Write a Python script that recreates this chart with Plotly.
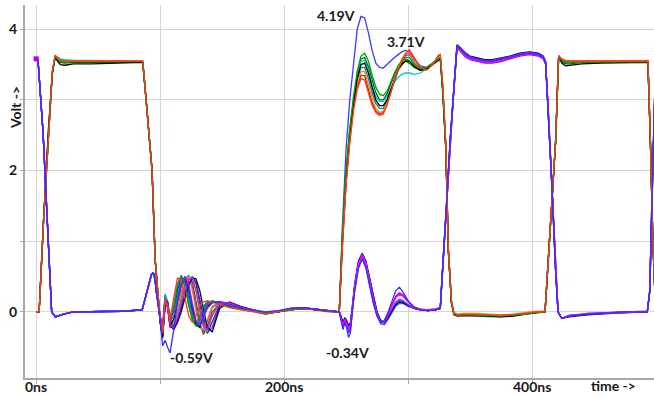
import plotly.graph_objects as go

# ---------------- Family A (red net: high first at 15 ns) ----------------
A_COLORS = ['#ff3a1a', '#00a000', '#000000', '#ff7f0e', '#00c8c8',
            '#006400', '#008b8b', '#b22222', '#3b3bff']

A_RISE1_T = [0, 2.4, 6, 10]
A_RISE1_V = [0.0, 0.0, 1.3, 2.6]

AH1_T = [13, 15.3, 17, 19.5, 23, 30, 45, 60, 75, 86]
A_AH1_V = [
    [3.40, 3.63, 3.60, 3.57, 3.55, 3.55, 3.55, 3.55, 3.55, 3.55],
    [3.38, 3.62, 3.58, 3.54, 3.53, 3.54, 3.54, 3.54, 3.54, 3.54],
    [3.36, 3.60, 3.55, 3.50, 3.49, 3.51, 3.51, 3.52, 3.52, 3.53],
    [3.40, 3.63, 3.59, 3.56, 3.55, 3.55, 3.55, 3.55, 3.55, 3.55],
    [3.39, 3.62, 3.60, 3.58, 3.57, 3.56, 3.56, 3.56, 3.55, 3.54],
    [3.37, 3.61, 3.57, 3.53, 3.52, 3.53, 3.53, 3.53, 3.53, 3.53],
    [3.38, 3.62, 3.59, 3.56, 3.55, 3.55, 3.54, 3.54, 3.54, 3.54],
    [3.39, 3.62, 3.58, 3.55, 3.54, 3.54, 3.54, 3.54, 3.54, 3.54],
    [3.38, 3.62, 3.58, 3.54, 3.53, 3.54, 3.54, 3.54, 3.54, 3.54],
]

A_FALL1_T = [88.7, 91, 93.5, 96]
A_FALL1_V = [3.0, 2.5, 2.0, 0.74]

LR_T = [98, 100, 102, 104, 106, 108, 111, 114, 117, 120,
        123, 126, 129, 132, 135, 138, 142, 148, 156, 165,
        175, 185, 195, 205, 215, 225, 235, 244]
A_LR_V = [
    [0.35, -0.1, -0.3, 0.15, 0.1, -0.1, 0.2, 0.48, 0.45, 0.2, -0.05, -0.15, -0.05, 0.08, 0.14, 0.16, 0.14, 0.1, 0.06, 0.03, 0.01, -0.02, 0.0, 0.04, 0.05, 0.03, 0.01, 0.0],
    [0.3, -0.12, -0.28, 0.2, 0.12, -0.12, 0.05, 0.35, 0.5, 0.38, 0.1, -0.12, -0.2, -0.05, 0.08, 0.14, 0.15, 0.12, 0.07, 0.04, 0.01, -0.03, 0.0, 0.03, 0.05, 0.04, 0.01, 0.0],
    [0.32, -0.15, -0.37, 0.1, 0.15, -0.2, -0.1, 0.15, 0.38, 0.5, 0.35, 0.05, -0.18, -0.22, -0.05, 0.08, 0.14, 0.13, 0.08, 0.04, 0.02, -0.02, 0.0, 0.04, 0.06, 0.03, 0.01, 0.0],
    [0.3, -0.1, -0.32, 0.18, 0.1, -0.15, -0.15, 0.02, 0.25, 0.45, 0.5, 0.3, 0.0, -0.22, -0.25, -0.1, 0.08, 0.14, 0.1, 0.05, 0.02, -0.02, 0.01, 0.05, 0.05, 0.03, 0.0, 0.0],
    [0.33, -0.08, -0.25, 0.22, 0.12, -0.1, -0.18, -0.05, 0.15, 0.35, 0.48, 0.5, 0.3, 0.0, -0.22, -0.28, -0.05, 0.12, 0.12, 0.06, 0.03, -0.01, 0.01, 0.04, 0.06, 0.04, 0.01, 0.0],
    [0.3, -0.12, -0.3, 0.12, 0.08, -0.15, -0.2, -0.1, 0.05, 0.25, 0.42, 0.48, 0.4, 0.12, -0.15, -0.3, -0.15, 0.1, 0.13, 0.07, 0.03, -0.02, 0.0, 0.04, 0.05, 0.03, 0.01, 0.0],
    [0.34, -0.1, -0.2, 0.25, 0.15, -0.05, 0.0, 0.25, 0.45, 0.48, 0.25, -0.05, -0.2, -0.12, 0.04, 0.12, 0.16, 0.13, 0.08, 0.04, 0.02, -0.02, 0.0, 0.03, 0.05, 0.04, 0.02, 0.0],
    [0.3, -0.14, -0.35, 0.08, 0.12, -0.22, -0.2, -0.05, 0.2, 0.4, 0.5, 0.42, 0.15, -0.15, -0.32, -0.2, 0.0, 0.12, 0.11, 0.05, 0.02, -0.03, 0.0, 0.04, 0.05, 0.03, 0.01, 0.0],
    [0.31, -0.1, -0.27, 0.2, 0.12, -0.1, 0.06, 0.36, 0.5, 0.38, 0.1, -0.1, -0.18, -0.05, 0.08, 0.14, 0.15, 0.12, 0.07, 0.04, 0.01, -0.02, 0.0, 0.03, 0.05, 0.04, 0.01, 0.0],
]

HR_T = [244.5, 247, 250, 253, 256, 259, 262, 265, 268, 271,
        274, 277, 280, 283, 286, 289, 292, 295, 298, 301,
        305, 310, 315, 320, 324, 326]
A_HR_V = [
    [0.0, 0.9, 1.8, 2.4, 2.85, 3.15, 3.3, 3.28, 3.1, 2.92, 2.82, 2.78, 2.8, 2.92, 3.1, 3.28, 3.42, 3.55, 3.65, 3.71, 3.6, 3.45, 3.42, 3.5, 3.62, 3.65],
    [0.0, 1.1, 2.0, 2.6, 3.05, 3.4, 3.62, 3.66, 3.55, 3.35, 3.18, 3.08, 3.06, 3.12, 3.25, 3.38, 3.48, 3.55, 3.58, 3.56, 3.5, 3.45, 3.46, 3.52, 3.58, 3.6],
    [0.0, 1.0, 1.9, 2.5, 2.95, 3.3, 3.5, 3.52, 3.38, 3.18, 3.0, 2.92, 2.92, 3.0, 3.15, 3.3, 3.42, 3.5, 3.55, 3.55, 3.48, 3.42, 3.44, 3.5, 3.56, 3.58],
    [0.0, 0.95, 1.85, 2.45, 2.9, 3.22, 3.4, 3.4, 3.22, 3.02, 2.88, 2.82, 2.84, 2.95, 3.12, 3.3, 3.45, 3.58, 3.66, 3.66, 3.55, 3.46, 3.45, 3.52, 3.6, 3.62],
    [0.0, 1.0, 1.95, 2.55, 3.0, 3.35, 3.55, 3.56, 3.42, 3.22, 3.05, 2.98, 2.98, 3.05, 3.15, 3.25, 3.32, 3.36, 3.38, 3.38, 3.36, 3.38, 3.44, 3.52, 3.58, 3.6],
    [0.0, 1.05, 1.98, 2.58, 3.02, 3.38, 3.58, 3.6, 3.47, 3.27, 3.1, 3.0, 3.0, 3.08, 3.22, 3.36, 3.46, 3.52, 3.55, 3.52, 3.46, 3.42, 3.45, 3.52, 3.57, 3.6],
    [0.0, 1.0, 1.9, 2.5, 2.95, 3.28, 3.46, 3.46, 3.3, 3.1, 2.95, 2.88, 2.88, 2.98, 3.14, 3.3, 3.44, 3.54, 3.6, 3.6, 3.52, 3.44, 3.44, 3.51, 3.58, 3.6],
    [0.0, 0.92, 1.82, 2.42, 2.88, 3.18, 3.35, 3.34, 3.15, 2.96, 2.84, 2.8, 2.82, 2.94, 3.1, 3.28, 3.43, 3.56, 3.63, 3.64, 3.55, 3.46, 3.44, 3.5, 3.6, 3.63],
    [0.0, 1.2, 2.3, 3.0, 3.55, 4.0, 4.18, 4.16, 3.95, 3.7, 3.52, 3.46, 3.45, 3.5, 3.56, 3.6, 3.64, 3.68, 3.7, 3.68, 3.58, 3.48, 3.46, 3.52, 3.6, 3.62],
]

AL_T = [328, 330.5, 332.5, 335, 337, 340, 345, 355, 365, 375, 385, 395, 403, 410.5]
A_AL_V = [
    [3.2, 2.35, 0.9, 0.15, -0.02, -0.04, -0.03, -0.03, -0.04, -0.05, -0.04, -0.02, 0.0, 0.0],
    [3.15, 2.3, 0.88, 0.14, -0.03, -0.05, -0.04, -0.04, -0.05, -0.06, -0.05, -0.03, -0.01, 0.0],
    [3.1, 2.28, 0.85, 0.12, -0.04, -0.06, -0.05, -0.05, -0.06, -0.07, -0.06, -0.03, -0.01, 0.0],
    [3.2, 2.36, 0.92, 0.16, -0.01, -0.03, -0.02, -0.02, -0.03, -0.04, -0.03, -0.01, 0.01, 0.01],
    [3.15, 2.32, 0.88, 0.14, -0.03, -0.05, -0.04, -0.05, -0.07, -0.07, -0.05, -0.03, 0.0, 0.0],
    [3.12, 2.3, 0.86, 0.13, -0.03, -0.05, -0.04, -0.04, -0.05, -0.06, -0.05, -0.02, 0.0, 0.0],
    [3.16, 2.33, 0.9, 0.15, -0.02, -0.04, -0.04, -0.05, -0.06, -0.06, -0.04, -0.02, 0.0, 0.0],
    [3.18, 2.34, 0.9, 0.15, -0.02, -0.04, -0.03, -0.03, -0.04, -0.05, -0.04, -0.02, 0.0, 0.0],
    [3.17, 2.33, 0.89, 0.15, -0.02, -0.04, -0.03, -0.04, -0.05, -0.05, -0.04, -0.02, 0.0, 0.0],
]

A_RISE3_T = [413.7, 419, 421.5]
A_RISE3_V = [0.9, 2.4, 3.62]

AH3_T = [424, 427, 431, 440, 455, 470, 485, 493.5]
A_AH3_V = [
    [3.58, 3.56, 3.55, 3.55, 3.55, 3.55, 3.55, 3.55],
    [3.56, 3.53, 3.53, 3.54, 3.54, 3.54, 3.54, 3.54],
    [3.52, 3.48, 3.49, 3.51, 3.52, 3.52, 3.52, 3.53],
    [3.58, 3.56, 3.55, 3.55, 3.55, 3.55, 3.56, 3.56],
    [3.57, 3.55, 3.55, 3.56, 3.56, 3.55, 3.55, 3.55],
    [3.54, 3.51, 3.51, 3.53, 3.53, 3.53, 3.53, 3.53],
    [3.56, 3.53, 3.53, 3.54, 3.54, 3.54, 3.54, 3.54],
    [3.57, 3.54, 3.54, 3.55, 3.55, 3.54, 3.54, 3.54],
    [3.56, 3.53, 3.53, 3.54, 3.54, 3.54, 3.54, 3.54],
]

A_FALL3_T = [495.5, 497.5, 499.5]
A_FALL3_V = [2.4, 1.0, 0.1]

# ---------------- Family B (blue net: high at 0 ns) ----------------
B_COLORS = ['#3030ff', '#ff00ff', '#8a2be2', '#000080', '#4169e1',
            '#1f77b4', '#9400d3', '#0000cd']

B_FALL0_T = [0, 1.5, 5.6, 10, 12.5, 15.5, 22, 30, 50, 70, 85.5]
B_FALL0_V = [3.58, 3.56, 2.53, 0.88, 0.0, -0.07, -0.03, 0.0, 0.01, 0.01, 0.03]

B_GL_T = [88, 91, 93, 94.5, 96, 97]
B_GL_V = [0.2, 0.42, 0.53, 0.56, 0.45, 0.28]

B_LR_V = [
    [0.15, -0.1, -0.48, -0.4, -0.5, -0.58, -0.25, 0.15, 0.38, 0.45, 0.3, 0.05, -0.15, -0.2, -0.08, 0.05, 0.13, 0.15, 0.11, 0.06, 0.03, 0.0, 0.02, 0.05, 0.06, 0.04, 0.02, 0.01],
    [0.2, -0.05, -0.25, 0.2, 0.05, -0.2, -0.22, -0.08, 0.12, 0.32, 0.46, 0.48, 0.3, 0.02, -0.2, -0.25, -0.05, 0.12, 0.13, 0.07, 0.03, -0.01, 0.01, 0.05, 0.06, 0.04, 0.02, 0.01],
    [0.18, -0.08, -0.3, 0.15, 0.1, -0.15, -0.05, 0.2, 0.4, 0.5, 0.4, 0.12, -0.12, -0.18, -0.04, 0.1, 0.15, 0.14, 0.09, 0.05, 0.02, -0.02, 0.0, 0.04, 0.06, 0.04, 0.02, 0.0],
    [0.2, -0.06, -0.28, 0.18, 0.08, -0.18, -0.25, -0.15, 0.0, 0.2, 0.38, 0.48, 0.47, 0.3, 0.02, -0.22, -0.28, 0.05, 0.14, 0.08, 0.03, -0.02, 0.0, 0.04, 0.06, 0.04, 0.01, 0.0],
    [0.16, -0.1, -0.33, 0.12, 0.14, -0.08, 0.1, 0.4, 0.52, 0.42, 0.15, -0.1, -0.18, -0.06, 0.06, 0.13, 0.15, 0.12, 0.08, 0.04, 0.02, -0.02, 0.0, 0.03, 0.05, 0.04, 0.02, 0.0],
    [0.2, -0.04, -0.22, 0.22, 0.1, -0.12, -0.18, 0.0, 0.28, 0.45, 0.52, 0.35, 0.05, -0.2, -0.28, -0.12, 0.06, 0.13, 0.11, 0.06, 0.02, -0.02, 0.01, 0.05, 0.06, 0.04, 0.01, 0.0],
    [0.18, -0.09, -0.3, 0.14, 0.06, -0.2, -0.24, -0.12, 0.08, 0.28, 0.42, 0.5, 0.42, 0.18, -0.1, -0.3, -0.22, 0.08, 0.13, 0.07, 0.03, -0.02, 0.0, 0.04, 0.05, 0.03, 0.01, 0.0],
    [0.17, -0.11, -0.35, 0.1, 0.12, -0.12, 0.02, 0.3, 0.48, 0.45, 0.22, -0.05, -0.2, -0.12, 0.03, 0.12, 0.15, 0.13, 0.08, 0.04, 0.02, -0.02, 0.0, 0.04, 0.05, 0.04, 0.01, 0.0],
]

HB_T = [244.5, 246, 247.5, 249, 250.5, 252, 253.5, 255, 257, 260,
        263, 266, 269, 272, 275, 278, 281, 284, 287, 290,
        293, 296, 300, 305, 310, 316, 322, 326]
B_HB_V = [
    [0.0, -0.12, -0.25, -0.15, -0.22, -0.36, -0.3, 0.0, 0.3, 0.62, 0.75, 0.62, 0.38, 0.12, -0.06, -0.15, -0.12, 0.0, 0.15, 0.3, 0.35, 0.28, 0.16, 0.06, 0.03, 0.02, 0.03, 0.05],
    [0.0, -0.08, -0.18, -0.1, -0.15, -0.22, -0.18, 0.05, 0.38, 0.7, 0.8, 0.68, 0.42, 0.15, -0.05, -0.16, -0.14, -0.04, 0.08, 0.2, 0.25, 0.22, 0.14, 0.07, 0.04, 0.03, 0.04, 0.06],
    [0.0, -0.1, -0.2, -0.12, -0.18, -0.28, -0.22, 0.02, 0.35, 0.68, 0.82, 0.7, 0.45, 0.18, -0.02, -0.14, -0.13, -0.05, 0.05, 0.14, 0.18, 0.16, 0.1, 0.05, 0.03, 0.03, 0.04, 0.06],
    [0.0, -0.06, -0.15, -0.08, -0.12, -0.2, -0.15, 0.06, 0.4, 0.72, 0.83, 0.72, 0.48, 0.2, 0.0, -0.12, -0.15, -0.08, 0.02, 0.1, 0.14, 0.13, 0.09, 0.05, 0.03, 0.02, 0.03, 0.05],
    [0.0, -0.09, -0.19, -0.1, -0.16, -0.25, -0.2, 0.03, 0.36, 0.66, 0.78, 0.66, 0.42, 0.16, -0.04, -0.17, -0.18, -0.1, 0.0, 0.08, 0.12, 0.12, 0.08, 0.05, 0.03, 0.02, 0.03, 0.05],
    [0.0, -0.07, -0.16, -0.09, -0.14, -0.21, -0.16, 0.05, 0.38, 0.7, 0.8, 0.68, 0.44, 0.17, -0.03, -0.15, -0.16, -0.07, 0.04, 0.12, 0.16, 0.15, 0.1, 0.05, 0.03, 0.02, 0.03, 0.05],
    [0.0, -0.11, -0.22, -0.13, -0.2, -0.3, -0.25, 0.0, 0.32, 0.64, 0.76, 0.64, 0.4, 0.14, -0.05, -0.16, -0.12, 0.0, 0.12, 0.22, 0.27, 0.24, 0.15, 0.07, 0.04, 0.03, 0.04, 0.06],
    [0.0, -0.08, -0.17, -0.1, -0.15, -0.24, -0.19, 0.04, 0.37, 0.69, 0.81, 0.7, 0.46, 0.19, -0.01, -0.13, -0.14, -0.06, 0.03, 0.11, 0.15, 0.14, 0.1, 0.05, 0.03, 0.02, 0.03, 0.05],
]

BH_T = [327.5, 329, 331, 334, 337, 339.5, 342, 346, 350, 356,
        362, 368, 375, 382, 390, 398, 405, 409, 411]
B_BH_V = [
    [0.5, 1.0, 1.5, 2.43, 3.2, 3.76, 3.72, 3.65, 3.6, 3.57, 3.55, 3.55, 3.57, 3.6, 3.64, 3.66, 3.64, 3.6, 3.52],
    [0.48, 0.98, 1.48, 2.4, 3.18, 3.74, 3.7, 3.62, 3.58, 3.55, 3.53, 3.53, 3.55, 3.59, 3.63, 3.65, 3.63, 3.59, 3.5],
    [0.5, 1.0, 1.5, 2.42, 3.2, 3.77, 3.73, 3.66, 3.61, 3.58, 3.56, 3.56, 3.58, 3.61, 3.65, 3.67, 3.65, 3.61, 3.53],
    [0.52, 1.02, 1.52, 2.45, 3.22, 3.78, 3.74, 3.67, 3.62, 3.59, 3.57, 3.57, 3.59, 3.62, 3.66, 3.68, 3.66, 3.62, 3.54],
    [0.49, 0.99, 1.49, 2.41, 3.19, 3.75, 3.71, 3.63, 3.59, 3.56, 3.54, 3.54, 3.56, 3.6, 3.64, 3.66, 3.64, 3.6, 3.51],
    [0.5, 1.0, 1.5, 2.43, 3.2, 3.76, 3.72, 3.64, 3.6, 3.57, 3.55, 3.55, 3.57, 3.6, 3.64, 3.66, 3.64, 3.6, 3.52],
    [0.47, 0.97, 1.47, 2.39, 3.17, 3.73, 3.69, 3.61, 3.57, 3.54, 3.52, 3.52, 3.54, 3.58, 3.62, 3.64, 3.62, 3.58, 3.5],
    [0.51, 1.01, 1.51, 2.44, 3.21, 3.77, 3.73, 3.66, 3.61, 3.58, 3.56, 3.56, 3.58, 3.61, 3.65, 3.67, 3.65, 3.61, 3.53],
]

B_FALL2_T = [413, 416, 419, 421, 424]
B_FALL2_V = [2.9, 1.8, 0.6, 0.0, -0.09]

BL_T = [430, 445, 460, 475, 493]
B_BL_V = [
    [-0.06, -0.03, -0.01, 0.0, 0.0],
    [-0.05, -0.02, -0.01, 0.0, 0.01],
    [-0.06, -0.03, -0.02, -0.01, 0.0],
    [-0.07, -0.04, -0.02, -0.01, 0.0],
    [-0.05, -0.03, -0.01, 0.0, 0.0],
    [-0.06, -0.02, -0.01, 0.0, 0.01],
    [-0.05, -0.03, -0.02, 0.0, 0.0],
    [-0.06, -0.03, -0.01, -0.01, 0.0],
]

B_RISE4_T = [495, 497, 499.5]
B_RISE4_V = [0.3, 1.8, 3.4]

# ---------------- axes / labels ----------------
X_TICKS = [0, 100, 200, 300, 400, 500]
X_LABELS = ['0ns', '', '200ns', '', '400ns', '']
Y_TICKS = [0, 1, 2, 3, 4]
Y_TICKTEXT = ['0', '', '2', '', '4']
PEAK_LABELS = [('4.19V', 259.0, 4.20, 'right'), ('3.71V', 298.5, 3.83, 'center'),
               ('-0.59V', 125.5, -0.65, 'center'), ('-0.34V', 250.8, -0.57, 'center')]

fig = go.Figure()

def a_trace(i):
    t = A_RISE1_T + AH1_T + A_FALL1_T + LR_T + HR_T + AL_T + A_RISE3_T + AH3_T + A_FALL3_T
    v = (A_RISE1_V + A_AH1_V[i] + A_FALL1_V + A_LR_V[i] + A_HR_V[i] + A_AL_V[i]
         + A_RISE3_V + A_AH3_V[i] + A_FALL3_V)
    assert len(t) == len(v), ('A', i, len(t), len(v))
    return t, v

def b_trace(i):
    t = B_FALL0_T + B_GL_T + LR_T + HB_T + BH_T + B_FALL2_T + BL_T + B_RISE4_T
    v = (B_FALL0_V + B_GL_V + B_LR_V[i] + B_HB_V[i] + B_BH_V[i] + B_FALL2_V
         + B_BL_V[i] + B_RISE4_V)
    assert len(t) == len(v), ('B', i, len(t), len(v))
    return t, v

# draw order: extreme A trace first, then the rest with index 0 (red / blue) on top
nA, nB = len(A_COLORS), len(B_COLORS)
order = [('A', nA - 1)]
for k in reversed(range(max(nA - 1, nB))):
    if k < nA - 1:
        order.append(('A', k))
    if k < nB:
        order.append(('B', k))

for fam, i in order:
    if fam == 'A':
        t, v = a_trace(i)
        col = A_COLORS[i]
    else:
        t, v = b_trace(i)
        col = B_COLORS[i]
    fig.add_trace(go.Scatter(x=t, y=v, mode='lines',
                             line=dict(color=col, width=1.3),
                             hoverinfo='skip', showlegend=False))

fig.add_trace(go.Scatter(x=[B_FALL0_T[0]], y=[B_FALL0_V[0]], mode='markers',
                         marker=dict(symbol='square', size=5, color='#b000ff'),
                         hoverinfo='skip', showlegend=False))

bold = dict(family='Lato', size=14, color='#1a1a1a', weight='bold')

fig.update_layout(
    width=654, height=397,
    margin=dict(l=25, r=0, t=5, b=19),
    paper_bgcolor='white', plot_bgcolor='white',
    showlegend=False,
    font=bold,
)
fig.update_xaxes(range=[-9, 498.4], tickmode='array', tickvals=X_TICKS,
                 ticktext=[''] * len(X_TICKS), automargin=False,
                 showgrid=True, gridcolor='#d4d4d4', gridwidth=1,
                 showline=True, linecolor='#a8a8a8', linewidth=2,
                 ticks='outside', ticklen=4, tickcolor='#a8a8a8',
                 zeroline=False)
fig.update_yaxes(range=[-0.934, 4.342], tickmode='array', tickvals=Y_TICKS, ticktext=Y_TICKTEXT,
                 automargin=False,
                 showgrid=True, gridcolor='#d4d4d4', gridwidth=1,
                 showline=True, linecolor='#a8a8a8', linewidth=2,
                 ticks='outside', ticklen=3, tickcolor='#a8a8a8',
                 zeroline=False, tickfont=bold)

for xv, lab in zip(X_TICKS, X_LABELS):
    if lab:
        fig.add_annotation(x=xv, y=-0.0241, xref='x', yref='paper', text=lab,
                           showarrow=False, xanchor='center', yanchor='middle', font=bold)

for txt, x, y, anc in PEAK_LABELS:
    fig.add_annotation(x=x, y=y, xref='x', yref='y', text=txt, showarrow=False,
                       xanchor=anc, yanchor='middle', font=bold)

fig.add_annotation(x=0.936, y=-0.0214, xref='paper', yref='paper', text='time ->',
                   showarrow=False, xanchor='center', yanchor='middle', font=bold)
fig.add_annotation(x=-0.0159, y=0.7265, xref='paper', yref='paper', text='Volt ->',
                   textangle=-90, showarrow=False, xanchor='center', yanchor='middle', font=bold)

fig.write_html('out.html', config={'displayModeBar': False},
               post_script="document.body.style.margin='0';document.body.style.overflow='hidden';")
